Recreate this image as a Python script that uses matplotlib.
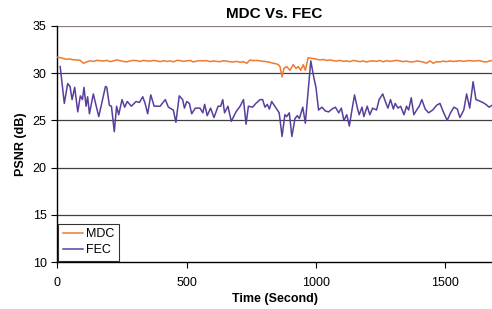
import matplotlib
matplotlib.use("Agg")
import matplotlib.pyplot as plt

# MDC: PSNR (dB) vs. time (s)
mdc_t = [0, 12, 25, 37, 50, 62, 76, 88, 102, 115, 127, 140, 153, 166, 180, 192,
         205, 218, 230, 243, 256, 269, 282, 295, 308, 320, 333, 346, 360, 372,
         385, 398, 411, 424, 437, 450, 463, 475, 488, 501, 514, 526, 539, 552,
         565, 578, 590, 603, 616, 629, 642, 655, 668, 681, 694, 707, 720, 733,
         745, 758, 771, 784, 797, 810, 822, 835, 845, 855, 861, 869, 876, 887,
         900, 912, 923, 932, 941, 951, 959, 970, 983, 1000, 1015, 1030, 1041,
         1054, 1067, 1080, 1093, 1105, 1118, 1131, 1144, 1157, 1170, 1183, 1196,
         1208, 1221, 1234, 1247, 1260, 1273, 1286, 1299, 1311, 1324, 1337, 1350,
         1363, 1376, 1389, 1401, 1414, 1427, 1440, 1453, 1466, 1479, 1492, 1505,
         1517, 1530, 1543, 1556, 1569, 1582, 1595, 1608, 1620, 1633, 1646, 1659,
         1675, 1690]
mdc_v = [31.7, 31.64, 31.55, 31.47, 31.5, 31.42, 31.4, 31.38, 31.05, 31.2,
         31.3, 31.25, 31.35, 31.33, 31.28, 31.36, 31.22, 31.3, 31.4, 31.32,
         31.25, 31.19, 31.3, 31.35, 31.33, 31.24, 31.35, 31.3, 31.28, 31.35,
         31.3, 31.22, 31.32, 31.25, 31.3, 31.2, 31.36, 31.33, 31.25, 31.3,
         31.35, 31.19, 31.28, 31.33, 31.3, 31.33, 31.22, 31.3, 31.25, 31.22,
         31.32, 31.28, 31.2, 31.19, 31.25, 31.15, 31.22, 31.05, 31.4, 31.33,
         31.35, 31.3, 31.25, 31.22, 31.15, 31.05, 31.0, 30.9, 30.7, 29.6, 30.5,
         30.7, 30.3, 30.9, 30.5, 30.7, 30.3, 30.9, 30.3, 31.64, 31.57, 31.5,
         31.4, 31.45, 31.35, 31.4, 31.33, 31.28, 31.36, 31.25, 31.3, 31.22,
         31.35, 31.28, 31.22, 31.3, 31.18, 31.28, 31.3, 31.25, 31.35, 31.2,
         31.33, 31.25, 31.3, 31.36, 31.3, 31.22, 31.28, 31.2, 31.19, 31.3,
         31.25, 31.18, 31.05, 31.3, 31.05, 31.22, 31.19, 31.28, 31.22, 31.3,
         31.24, 31.28, 31.32, 31.25, 31.3, 31.33, 31.28, 31.3, 31.33, 31.22,
         31.19, 31.33, 31.25]

# FEC: PSNR (dB) vs. time (s)
fec_t = [12, 28, 41, 50, 58, 68, 80, 90, 98, 104, 112, 118, 125, 140, 161,
         187, 192, 202, 210, 221, 230, 238, 251, 261, 271, 287, 305, 318, 331,
         340, 350, 362, 375, 398, 418, 430, 449, 459, 472, 485, 492, 501, 511,
         520, 534, 552, 563, 570, 580, 593, 606, 622, 632, 640, 647, 660, 673,
         691, 707, 720, 730, 739, 755, 768, 784, 794, 803, 812, 820, 829, 846,
         858, 869, 880, 887, 897, 907, 919, 928, 936, 949, 959, 970, 980, 992,
         1000, 1010, 1023, 1036, 1049, 1062, 1075, 1088, 1098, 1108, 1119, 1129,
         1139, 1149, 1160, 1167, 1178, 1185, 1198, 1208, 1219, 1234, 1244, 1258,
         1268, 1278, 1288, 1299, 1306, 1317, 1327, 1340, 1350, 1358, 1368, 1378,
         1389, 1399, 1409, 1422, 1435, 1451, 1466, 1479, 1492, 1507, 1520, 1533,
         1546, 1556, 1571, 1582, 1594, 1607, 1618, 1628, 1644, 1656, 1669, 1680,
         1690]
fec_v = [30.7, 26.8, 28.9, 28.6, 27.2, 28.5, 25.9, 27.6, 27.2, 28.5, 26.5,
         27.5, 25.7, 27.8, 25.4, 28.6, 28.5, 26.6, 26.5, 23.8, 26.5, 25.6, 27.2,
         26.4, 27.0, 26.5, 27.0, 26.9, 27.5, 26.8, 25.7, 27.7, 26.5, 26.5, 27.2,
         26.4, 26.1, 24.8, 27.6, 27.2, 26.3, 27.0, 26.8, 25.7, 26.3, 26.3, 25.8,
         26.7, 25.5, 26.3, 25.3, 26.5, 26.5, 27.2, 25.8, 26.5, 24.9, 25.9, 26.5,
         27.2, 24.6, 26.5, 26.4, 26.8, 27.2, 27.2, 26.4, 26.7, 26.2, 27.0, 26.3,
         25.8, 23.3, 25.6, 25.4, 25.8, 23.3, 25.2, 25.5, 25.2, 26.4, 24.7, 28.2,
         31.3, 29.5, 28.5, 26.1, 26.4, 26.0, 25.9, 26.2, 26.4, 25.8, 26.3, 25.0,
         25.6, 24.4, 26.1, 27.7, 26.3, 25.6, 26.4, 25.4, 26.5, 25.6, 26.3, 26.1,
         27.2, 27.8, 27.0, 26.3, 27.2, 26.2, 26.8, 26.3, 26.5, 25.6, 26.5, 26.1,
         27.4, 25.6, 26.1, 26.5, 27.2, 26.2, 25.8, 26.1, 26.6, 26.8, 25.9, 25.0,
         25.8, 26.4, 26.2, 25.3, 26.1, 27.8, 26.3, 29.1, 27.2, 27.1, 26.9, 26.7,
         26.4, 26.6, 26.3]

plt.rcParams["font.family"] = ["Liberation Sans", "DejaVu Sans"]

fig = plt.figure(figsize=(4.92, 3.09), dpi=100)
ax = fig.add_axes([0.116, 0.152, 0.884, 0.764])

ax.plot(mdc_t, mdc_v, color="#F07A2E", linewidth=1.1, label="MDC", zorder=3,
        solid_joinstyle="round")
ax.plot(fec_t, fec_v, color="#5A3E9E", linewidth=1.1, label="FEC", zorder=3,
        solid_joinstyle="round")

ax.set_xlim(0, 1680)
ax.set_ylim(10, 35)
ax.set_xticks([0, 500, 1000, 1500])
ax.set_yticks([10, 15, 20, 25, 30, 35])

for y in [15, 20, 25, 30]:
    ax.axhline(y, color="#404040", linewidth=0.9, zorder=1)
ax.axhline(35, color="#8C7F7A", linewidth=0.9, zorder=1)

for side in ["top", "right"]:
    ax.spines[side].set_visible(False)
ax.spines["left"].set_linewidth(1.0)
ax.spines["bottom"].set_linewidth(1.0)
ax.tick_params(axis="both", labelsize=9, length=4, width=0.8, direction="out")
ax.tick_params(axis="x", pad=7)

ax.set_title("MDC Vs. FEC", fontsize=11, fontweight="bold", pad=6)
ax.set_xlabel("Time (Second)", fontsize=9, fontweight="bold", labelpad=3)
ax.set_ylabel("PSNR (dB)", fontsize=9, fontweight="bold", labelpad=4)

leg = ax.legend(loc="lower left", fontsize=9, frameon=True, fancybox=False,
                edgecolor="black", borderaxespad=0.1, handlelength=1.6,
                handletextpad=0.3, borderpad=0.35, labelspacing=0.35)
leg.get_frame().set_linewidth(0.8)

plt.savefig("out.png", dpi=100)
